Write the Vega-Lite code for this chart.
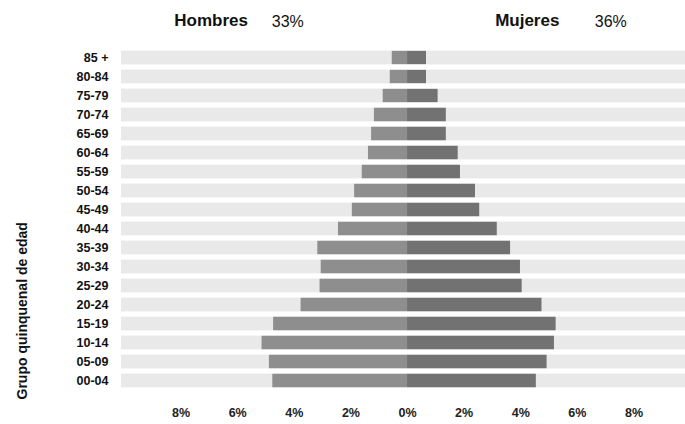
{
  "$schema": "https://vega.github.io/schema/vega-lite/v6.json",
  "autosize": {"type": "none"},
  "width": 563,
  "height": 342,
  "padding": {"left": 122, "top": 48, "right": 0, "bottom": 34},
  "background": "white",
  "config": {
    "view": {"stroke": null},
    "font": "Liberation Sans"
  },
  "data": {
    "values": [
      {"edad": "85 +", "sexo": "Hombres", "valor": -0.54},
      {"edad": "85 +", "sexo": "Mujeres", "valor": 0.67},
      {"edad": "80-84", "sexo": "Hombres", "valor": -0.61},
      {"edad": "80-84", "sexo": "Mujeres", "valor": 0.67},
      {"edad": "75-79", "sexo": "Hombres", "valor": -0.86},
      {"edad": "75-79", "sexo": "Mujeres", "valor": 1.08},
      {"edad": "70-74", "sexo": "Hombres", "valor": -1.17},
      {"edad": "70-74", "sexo": "Mujeres", "valor": 1.37},
      {"edad": "65-69", "sexo": "Hombres", "valor": -1.27},
      {"edad": "65-69", "sexo": "Mujeres", "valor": 1.37},
      {"edad": "60-64", "sexo": "Hombres", "valor": -1.38},
      {"edad": "60-64", "sexo": "Mujeres", "valor": 1.79},
      {"edad": "55-59", "sexo": "Hombres", "valor": -1.6},
      {"edad": "55-59", "sexo": "Mujeres", "valor": 1.87},
      {"edad": "50-54", "sexo": "Hombres", "valor": -1.87},
      {"edad": "50-54", "sexo": "Mujeres", "valor": 2.4},
      {"edad": "45-49", "sexo": "Hombres", "valor": -1.95},
      {"edad": "45-49", "sexo": "Mujeres", "valor": 2.55},
      {"edad": "40-44", "sexo": "Hombres", "valor": -2.44},
      {"edad": "40-44", "sexo": "Mujeres", "valor": 3.17},
      {"edad": "35-39", "sexo": "Hombres", "valor": -3.17},
      {"edad": "35-39", "sexo": "Mujeres", "valor": 3.64},
      {"edad": "30-34", "sexo": "Hombres", "valor": -3.05},
      {"edad": "30-34", "sexo": "Mujeres", "valor": 3.99},
      {"edad": "25-29", "sexo": "Hombres", "valor": -3.09},
      {"edad": "25-29", "sexo": "Mujeres", "valor": 4.05},
      {"edad": "20-24", "sexo": "Hombres", "valor": -3.76},
      {"edad": "20-24", "sexo": "Mujeres", "valor": 4.75},
      {"edad": "15-19", "sexo": "Hombres", "valor": -4.73},
      {"edad": "15-19", "sexo": "Mujeres", "valor": 5.25},
      {"edad": "10-14", "sexo": "Hombres", "valor": -5.14},
      {"edad": "10-14", "sexo": "Mujeres", "valor": 5.19},
      {"edad": "05-09", "sexo": "Hombres", "valor": -4.88},
      {"edad": "05-09", "sexo": "Mujeres", "valor": 4.93},
      {"edad": "00-04", "sexo": "Hombres", "valor": -4.76},
      {"edad": "00-04", "sexo": "Mujeres", "valor": 4.55}
    ]
  },
  "encoding": {
    "y": {
      "field": "edad",
      "type": "nominal",
      "sort": null,
      "scale": {"paddingInner": 0.3, "paddingOuter": 0.15},
      "axis": {
        "title": "Grupo quinquenal de edad",
        "titleFontSize": 14,
        "titleFontWeight": "bold",
        "titleColor": "#111",
        "titleAnchor": "end",
        "titleAlign": "left",
        "titleY": 351,
        "titlePadding": 47,
        "labelFontSize": 12.5,
        "labelFontWeight": "bold",
        "labelColor": "#111",
        "labelPadding": 14,
        "ticks": false,
        "domain": false
      }
    }
  },
  "layer": [
    {
      "mark": {"type": "bar", "color": "#e9e9e9"},
      "encoding": {
        "x": {
          "datum": -10.1,
          "type": "quantitative",
          "scale": {"domain": [-10.07, 9.82], "nice": false, "zero": false},
          "axis": {
            "orient": "top",
            "values": [-6.94, -4.23, 4.23, 7.18],
            "labelExpr": "datum.value < -5 ? 'Hombres' : datum.value < 0 ? '33%' : datum.value < 5 ? 'Mujeres' : '36%'",
            "labelFontWeight": {"condition": {"test": "datum.value < -5 || (datum.value > 0 && datum.value < 5)", "value": "bold"}, "value": "normal"},
            "labelFontSize": {"condition": {"test": "datum.value < -5 || (datum.value > 0 && datum.value < 5)", "value": 17}, "value": 16},
            "labelColor": "#111",
            "labelPadding": 19,
            "labelFlush": false,
            "ticks": false,
            "domain": false,
            "grid": false,
            "title": null
          }
        },
        "x2": {"datum": 10}
      }
    },
    {
      "mark": {"type": "bar"},
      "encoding": {
        "x": {
          "field": "valor",
          "type": "quantitative",
          "axis": {
            "orient": "bottom",
            "values": [-8, -6, -4, -2, 0, 2, 4, 6, 8],
            "labelExpr": "abs(datum.value) + '%'",
            "labelFontSize": 12.5,
            "labelFontWeight": "bold",
            "labelColor": "#222",
            "labelPadding": 16,
            "labelFlush": false,
            "ticks": false,
            "domain": false,
            "grid": false,
            "title": null
          }
        },
        "x2": {"datum": 0},
        "color": {
          "field": "sexo",
          "type": "nominal",
          "scale": {"domain": ["Hombres", "Mujeres"], "range": ["#8e8e8e", "#727272"]},
          "legend": null
        }
      }
    }
  ],
  "resolve": {"axis": {"x": "independent"}}
}
